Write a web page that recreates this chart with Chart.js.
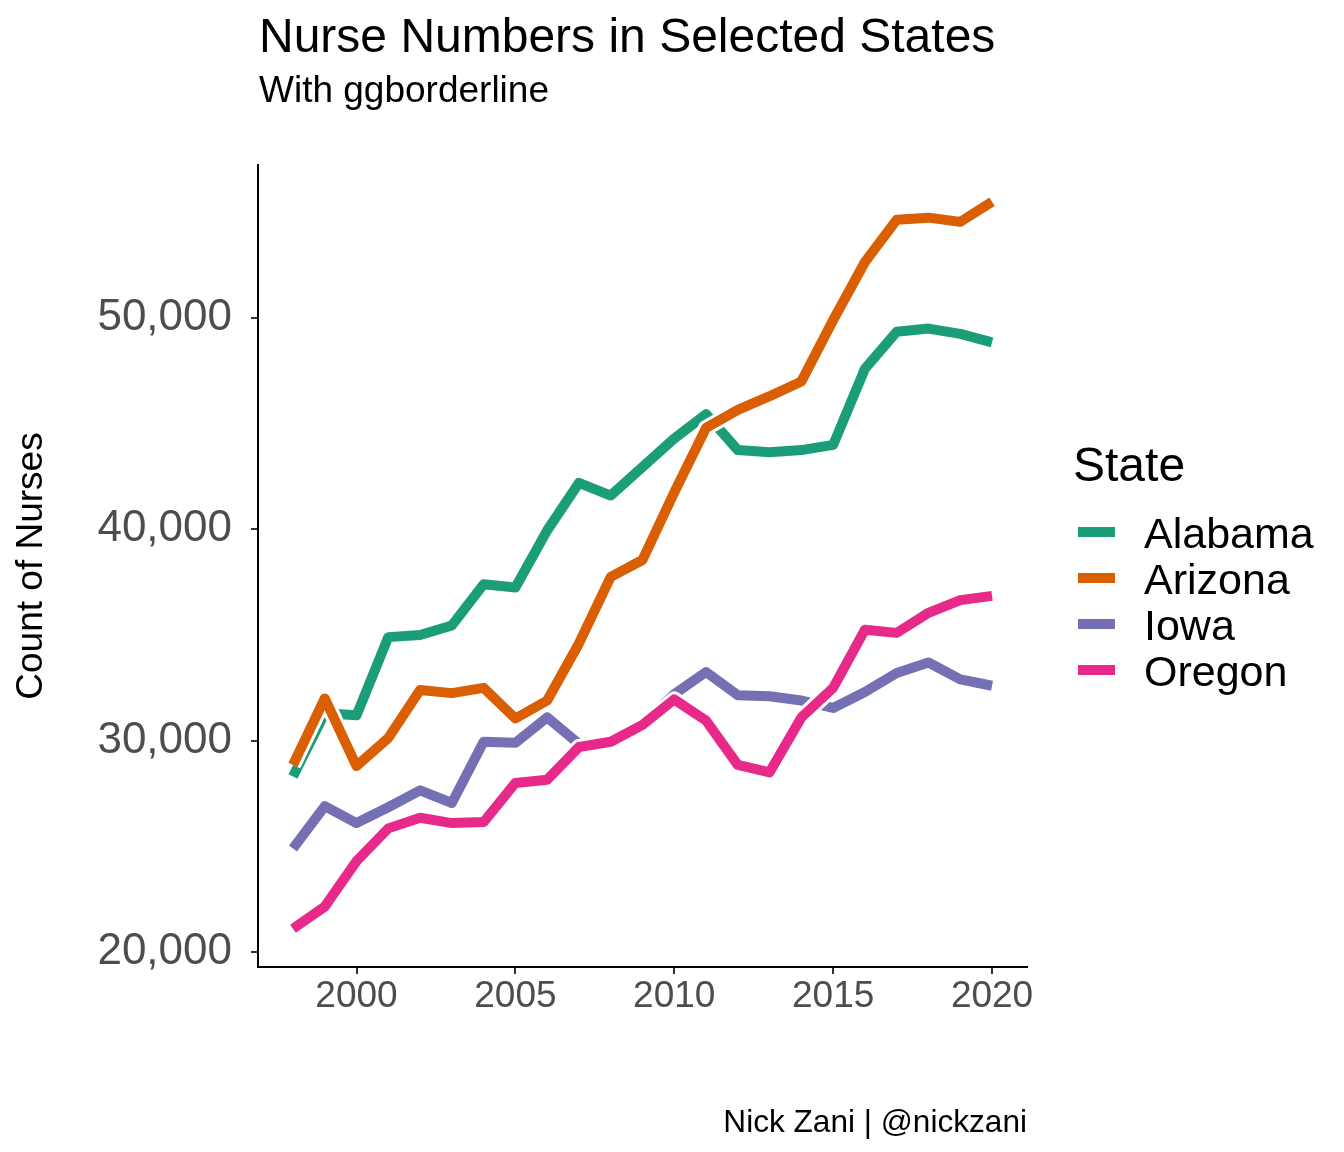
<!DOCTYPE html>
<html>
<head>
<meta charset="utf-8">
<script src="https://cdn.jsdelivr.net/npm/chart.js@4.4.0/dist/chart.umd.min.js"></script>
<style>
html,body{margin:0;padding:0;background:#ffffff;}
#wrap{width:1344px;height:1152px;position:relative;}
canvas{display:block;}
</style>
</head>
<body>
<div id="wrap"><canvas id="c" width="1344" height="1152"></canvas></div>
<script>
// ---- data ----
const years = [1998,1999,2000,2001,2002,2003,2004,2005,2006,2007,2008,2009,2010,2011,2012,2013,2014,2015,2016,2017,2018,2019,2020];
const states = ['Alabama','Arizona','Iowa','Oregon'];
const alabama = [28300,31300,31200,34900,35000,35450,37400,37250,39950,42200,41600,42950,44300,45450,43750,43650,43750,44000,47600,49350,49500,49250,48850];
const arizona = [28850,32000,28800,30130,32400,32250,32500,31050,31900,34600,37750,38550,41750,44800,45650,46300,47000,49900,52650,54650,54750,54550,55500];
const iowa    = [24900,26900,26100,26850,27650,27050,29950,29900,31100,29850,30050,30800,32200,33250,32150,32100,31900,31550,32300,33200,33700,32900,32600];
const oregon  = [21100,22150,24300,25850,26350,26100,26150,28000,28150,29700,29950,30750,31950,30950,28850,28500,31100,32500,35250,35100,36050,36650,36850];
const xTickValues = [2000,2005,2010,2015,2020];
const yTickValues = [20000,30000,40000,50000];
const titleText = 'Nurse Numbers in Selected States';
const subtitleText = 'With ggborderline';
const captionText = 'Nick Zani | @nickzani';
const yAxisTitle = 'Count of Nurses';
const legendTitle = 'State';

// ---- styling ----
const colors = ['#1B9E77','#D95F02','#7570B3','#E7298A'];
const FONT = '"Liberation Sans", Arial, sans-serif';
const LW = 10;   // line width
const BW = 3;    // white border on each side

const series = [alabama, arizona, iowa, oregon];
const datasets = [];
states.forEach((s, i) => {
  const pts = years.map((yr, j) => ({x: yr, y: series[i][j]}));
  datasets.push({
    label: s + ' border', data: pts,
    borderColor: '#ffffff', borderWidth: LW + 2 * BW,
    pointRadius: 0, tension: 0, borderCapStyle: 'butt', borderJoinStyle: 'round',
    order: (states.length - 1 - i) * 2 + 1
  });
  datasets.push({
    label: s, data: pts,
    borderColor: colors[i], backgroundColor: colors[i], borderWidth: LW,
    pointRadius: 0, tension: 0, borderCapStyle: 'butt', borderJoinStyle: 'round',
    order: (states.length - 1 - i) * 2
  });
});

const textPlugin = {
  id: 'textPlugin',
  afterDraw(chart) {
    const ctx = chart.ctx;
    ctx.save();
    ctx.fillStyle = '#000000';
    ctx.textBaseline = 'alphabetic';
    ctx.textAlign = 'left';
    ctx.font = '48px ' + FONT;
    ctx.fillText(titleText, 259, 52);
    ctx.font = '37px ' + FONT;
    ctx.fillText(subtitleText, 259, 102);
    ctx.textAlign = 'right';
    ctx.font = '31.6px ' + FONT;
    ctx.fillText(captionText, 1027, 1132);
    // legend
    ctx.textAlign = 'left';
    ctx.font = '48px ' + FONT;
    ctx.fillText(legendTitle, 1073, 481);
    ctx.font = '43px ' + FONT;
    states.forEach((s, i) => {
      const cy = 532 + i * 46;
      ctx.strokeStyle = colors[i];
      ctx.lineWidth = LW;
      ctx.lineCap = 'butt';
      ctx.beginPath();
      ctx.moveTo(1078, cy);
      ctx.lineTo(1115, cy);
      ctx.stroke();
      ctx.fillStyle = '#000000';
      ctx.fillText(s, 1144, cy + 16);
    });
    ctx.restore();
  }
};

new Chart(document.getElementById('c'), {
  type: 'line',
  data: {datasets},
  options: {
    responsive: false,
    animation: false,
    devicePixelRatio: 1,
    layout: {padding: {left: 0, right: 317, top: 165, bottom: 0}},
    plugins: {legend: {display: false}, tooltip: {enabled: false}, title: {display: false}},
    scales: {
      x: {
        type: 'linear', min: 1996.9, max: 2021.1,
        afterBuildTicks: s => { s.ticks = xTickValues.map(v => ({value: v})); },
        afterFit: s => { s.height = 185; },
        border: {display: true, color: '#000000', width: 2},
        grid: {drawOnChartArea: false, drawTicks: true, tickLength: 7, color: '#333333', tickColor: '#333333', lineWidth: 2},
        ticks: {color: '#4D4D4D', font: {family: FONT, size: 37}, padding: 1, maxRotation: 0, autoSkip: false,
                callback: v => String(v)}
      },
      y: {
        type: 'linear', min: 19290, max: 57241,
        afterBuildTicks: s => { s.ticks = yTickValues.map(v => ({value: v})); },
        afterFit: s => { s.width = 258; },
        border: {display: true, color: '#000000', width: 2},
        grid: {drawOnChartArea: false, drawTicks: true, tickLength: 7, color: '#333333', tickColor: '#333333', lineWidth: 2},
        ticks: {color: '#4D4D4D', font: {family: FONT, size: 44}, padding: 19, autoSkip: false,
                callback: v => Number(v).toLocaleString('en-US')},
        title: {display: true, text: yAxisTitle, color: '#000000', font: {family: FONT, size: 37}, padding: {top: 10, bottom: 0}}
      }
    }
  },
  plugins: [textPlugin]
});
</script>
</body>
</html>
